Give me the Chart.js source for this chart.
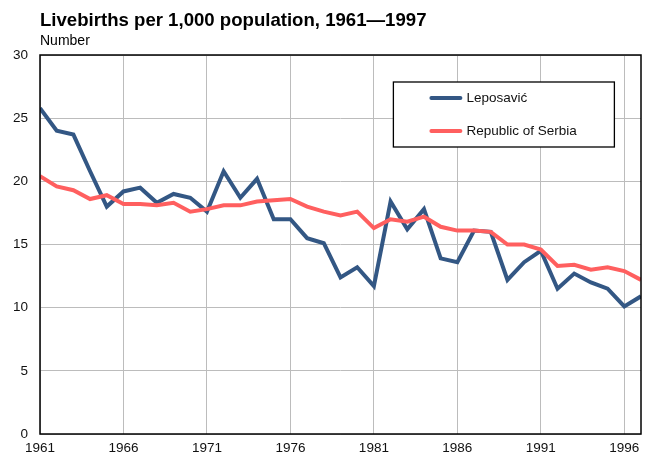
<!DOCTYPE html>
<html>
<head>
<meta charset="utf-8">
<style>
  html, body { margin: 0; padding: 0; background: #fff; }
  #wrap { width: 648px; height: 455px; position: relative; }
</style>
<script src="https://cdn.jsdelivr.net/npm/chart.js@4/dist/chart.umd.min.js"></script>
</head>
<body>
<div id="wrap"><canvas id="c" width="648" height="455"></canvas></div>
<script>
const years = [];
for (let y = 1961; y <= 1997; y++) years.push(y);

const leposavic = [25.8, 24.0, 23.7, 20.8, 18.0, 19.2, 19.5, 18.3, 19.0, 18.7,
  17.6, 20.8, 18.7, 20.2, 17.0, 17.0, 15.5, 15.1, 12.4, 13.2,
  11.7, 18.4, 16.2, 17.8, 13.9, 13.6, 16.1, 16.0, 12.2, 13.6,
  14.5, 11.5, 12.7, 12.0, 11.5, 10.1, 10.9];

const serbia = [20.4, 19.6, 19.3, 18.6, 18.9, 18.2, 18.2, 18.1, 18.3, 17.6,
  17.8, 18.1, 18.1, 18.4, 18.5, 18.6, 18.0, 17.6, 17.3, 17.6,
  16.3, 17.0, 16.8, 17.2, 16.4, 16.1, 16.1, 16.0, 15.0, 15.0,
  14.6, 13.3, 13.4, 13.0, 13.2, 12.9, 12.2];

const xTickLabels = [1961, 1966, 1971, 1976, 1981, 1986, 1991, 1996];
const yTicks = [0, 5, 10, 15, 20, 25, 30];

const seriesNames = ['Leposavić', 'Republic of Serbia'];
const seriesColors = ['#335784', '#ff5f5f'];

const titleText = 'Livebirths per 1,000 population, 1961\u20141997';
const subtitleText = 'Number';

const FONT = '"Liberation Sans", Arial, sans-serif';

const decorPlugin = {
  id: 'decor',
  afterDraw(chart) {
    const ctx = chart.ctx;
    const a = chart.chartArea;
    ctx.save();
    // titles
    ctx.fillStyle = '#000';
    ctx.textBaseline = 'alphabetic';
    ctx.textAlign = 'left';
    ctx.font = 'bold 18.6px ' + FONT;
    ctx.fillText(titleText, 40, 26);
    ctx.font = '14px ' + FONT;
    ctx.fillText(subtitleText, 40, 45);
    // frame
    ctx.strokeStyle = '#000';
    ctx.lineWidth = 1.5;
    ctx.strokeRect(a.left, a.top, a.right - a.left, a.bottom - a.top);
    // legend
    const bx = a.left + (a.right - a.left) * 0.588;
    const by = a.top + 27;
    const bw = 221, bh = 65;
    ctx.fillStyle = '#fff';
    ctx.fillRect(bx, by, bw, bh);
    ctx.lineWidth = 1.3;
    ctx.strokeRect(bx, by, bw, bh);
    chart.data.datasets.forEach((ds, i) => {
      const ly = by + 16 + i * 33;
      ctx.strokeStyle = ds.borderColor;
      ctx.lineWidth = 4;
      ctx.lineCap = 'round';
      ctx.beginPath();
      ctx.moveTo(bx + 38, ly);
      ctx.lineTo(bx + 67, ly);
      ctx.stroke();
      ctx.fillStyle = '#111';
      ctx.font = '13.5px ' + FONT;
      ctx.textBaseline = 'middle';
      ctx.fillText(ds.label, bx + 73, ly + 0.5);
    });
    ctx.restore();
  }
};

const datasets = [leposavic, serbia].map((vals, i) => ({
  label: seriesNames[i],
  data: vals.map((v, j) => ({ x: years[j], y: v })),
  borderColor: seriesColors[i],
  backgroundColor: seriesColors[i],
  borderWidth: 4,
  pointRadius: 0,
  tension: 0,
  borderJoinStyle: 'miter',
  order: 1 - i
}));

new Chart(document.getElementById('c'), {
  type: 'line',
  data: { datasets },
  plugins: [decorPlugin],
  options: {
    responsive: false,
    animation: false,
    devicePixelRatio: 1,
    layout: { padding: { left: 0, top: 55, right: 7, bottom: 0 } },
    plugins: { legend: { display: false }, title: { display: false }, tooltip: { enabled: false } },
    scales: {
      x: {
        type: 'linear',
        min: years[0],
        max: years[years.length - 1],
        afterBuildTicks(scale) {
          scale.ticks = xTickLabels.map(v => ({ value: v }));
        },
        afterFit(scale) { scale.height = 21; },
        border: { display: false },
        grid: { color: '#bcbcbc', lineWidth: 1, drawTicks: false },
        ticks: {
          autoSkip: false,
          maxRotation: 0,
          padding: 6,
          color: '#111',
          font: { family: FONT, size: 13.5 },
          callback: v => String(v)
        }
      },
      y: {
        min: 0,
        max: 30,
        afterBuildTicks(scale) {
          scale.ticks = yTicks.map(v => ({ value: v }));
        },
        afterFit(scale) { scale.width = 40; },
        border: { display: false },
        grid: { color: '#bcbcbc', lineWidth: 1, drawTicks: false },
        ticks: {
          padding: 12,
          color: '#111',
          font: { family: FONT, size: 13.5 }
        }
      }
    }
  }
});
</script>
</body>
</html>
